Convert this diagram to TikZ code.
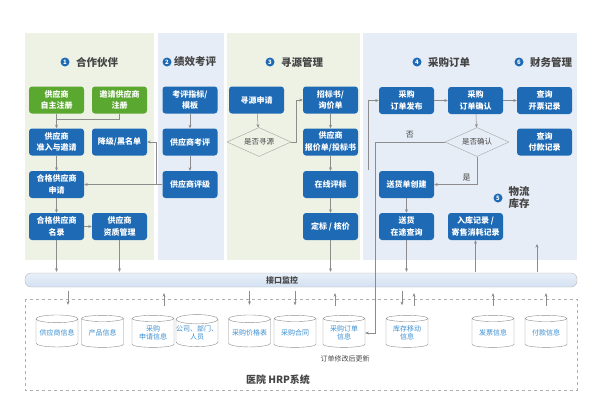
\documentclass[tikz,border=0pt]{standalone}
\usepackage{fontspec}
\setmainfont{Noto Sans CJK SC}
\usepackage{xcolor}
\usepackage{tikz}
\usetikzlibrary{shapes.geometric}
\usetikzlibrary{arrows.meta}

\definecolor{boxblue}{HTML}{1E6AB4}
\definecolor{boxgreen}{HTML}{5AA830}
\definecolor{panelgreen}{HTML}{EDF2E5}
\definecolor{panelblue}{HTML}{E7EDF6}
\definecolor{linegray}{HTML}{8C8C8C}
\definecolor{cyltext}{HTML}{3A8ED0}
\definecolor{titlegray}{HTML}{454545}
\definecolor{bartop}{HTML}{E8EFF8}
\definecolor{barbottom}{HTML}{D3E1F1}

\tikzset{
	box/.style={fill=boxblue, rounded corners=3pt, text=white, minimum width=55pt,
		minimum height=27pt, align=center, inner sep=0.5pt,
		font=\fontsize{8}{11.5}\selectfont\bfseries},
	gbox/.style={box, fill=boxgreen},
	decide/.style={diamond, draw=linegray!80, aspect=2.2, minimum width=64pt,
		minimum height=29pt, inner sep=0pt, text=titlegray,
		font=\fontsize{7.5}{9}\selectfont},
	flow/.style={draw=linegray, line width=0.5pt, -{Stealth[length=3.5pt,width=3pt]}},
	down/.style={flow, shorten <=4pt, shorten >=10pt},
	up/.style={flow, shorten <=9pt, shorten >=6pt},
	cyl/.style={cylinder, shape border rotate=90, aspect=0.22, draw=linegray,
		fill=white, minimum width=42pt, minimum height=32pt, inner sep=0pt,
		text=cyltext, align=center, font=\fontsize{7}{8.5}\selectfont},
	ttl/.style={text=titlegray, font=\fontsize{10.5}{12}\selectfont\bfseries},
	num/.style={circle, fill=boxblue, text=white, inner sep=0pt, minimum size=9pt,
		font=\fontsize{6}{6}\selectfont\bfseries},
}

\begin{document}
\begin{tikzpicture}[x=1pt,y=-1pt]
		\fill[white] (0,0) rectangle (600,413);
		\useasboundingbox (0,0) rectangle (600,413);
		
		% panels
		\fill[panelgreen] (25,33) rectangle (154,260);
		\fill[panelblue] (158,33) rectangle (224,260);
		\fill[panelgreen] (227,33) rectangle (360,260);
		\fill[panelblue] (363,33) rectangle (577,260);
		
		% titles
		\node[ttl] (t1) at (97,62) {合作伙伴};
		\node[num] (n1) at (65,62) {1};
		\node[ttl] (t2) at (195,62) {绩效考评};
		\node[num] (n2) at (167,62) {2};
		\node[ttl] (t3) at (302,62) {寻源管理};
		\node[num] (n3) at (270,62) {3};
		\node[ttl] (t4) at (449,62) {采购订单};
		\node[num] (n4) at (417,62) {4};
		\node[ttl] (t6) at (551,62) {财务管理};
		\node[num] (n6) at (519,62) {6};
		\node[ttl, align=left] (t5) at (519,198) {物流\\库存};
		\node[num] (n5) at (498,198) {5};
		
		% 1 partners
		\node[gbox] (zizhu) at (56.5,100) {供应商\\自主注册};
		\node[gbox] (yaoqing) at (119.5,100) {邀请供应商\\注册};
		\node[box] (zhunru) at (56.5,142) {供应商\\准入与邀请};
		\node[box] (jiangji) at (119.5,142) {降级/黑名单};
		\node[box] (shenqing) at (56.5,184.5) {合格供应商\\申请};
		\node[box] (minglu) at (56.5,226.5) {合格供应商\\名录};
		\node[box] (zizhi) at (119.5,226.5) {供应商\\资质管理};
		
		% 2 evaluation
		\node[box] (zhibiao) at (190,100) {考评指标/\\模板};
		\node[box] (kaoping) at (190,142) {供应商考评};
		\node[box] (pingji) at (190,184.5) {供应商评级};
		
		% 3 sourcing
		\node[box] (xunyuan) at (256.5,100) {寻源申请};
		\node[decide] (shifou) at (259,142) {是否寻源};
		\node[box] (zhaobiao) at (330.5,100) {招标书/\\询价单};
		\node[box] (baojia) at (330.5,142) {供应商\\报价单/投标书};
		\node[box] (pingbiao) at (330.5,184.5) {在线评标};
		\node[box] (dingbiao) at (330.5,226.5) {定标 / 核价};
		
		% 4 orders, 5 stock, 6 finance
		\node[box] (fabu) at (406.5,100.5) {采购\\订单发布};
		\node[box] (queren) at (475.5,100.5) {采购\\订单确认};
		\node[box] (kaipiao) at (544.5,100.5) {查询\\开票记录};
		\node[decide] (isok) at (477,142) {是否确认};
		\node[box] (fukuan) at (544.5,142) {查询\\付款记录};
		\node[box] (songhuo) at (406.5,184.5) {送货单创建};
		\node[box] (zaitu) at (406.5,226.5) {送货\\在途查询};
		\node[box] (ruku) at (475.5,226.5) {入库记录 /\\寄售消耗记录};
		
		% interface bar and HRP
		\node[draw=linegray!60, rounded corners=6pt, top color=bartop, bottom color=barbottom,
			minimum width=552pt, minimum height=14pt, inner sep=0pt] (jiekou) at (301,280) {};
		\node[text=titlegray, font=\fontsize{8}{9}\selectfont\bfseries] (jk) at (282,280) {接口监控};
		\draw[linegray!70, dashed, line width=0.5pt] (25,299) rectangle (577,390);
		\node[text=titlegray, font=\fontsize{10}{12}\selectfont\bfseries] (hrp) at (278,380) {医院 HRP系统};
		
		\node[cyl] (c1) at (57,333) {供应商信息};
		\node[cyl] (c2) at (102.5,333) {产品信息};
		\node[cyl] (c3) at (153,333) {采购\\申请信息};
		\node[cyl] (c4) at (197,333) {公司、部门、\\人员};
		\node[cyl] (c5) at (249.5,333) {采购价格表};
		\node[cyl] (c6) at (295,333) {采购合同};
		\node[cyl] (c7) at (344,333) {采购订单\\信息};
		\node[cyl] (c8) at (407,333) {库存移动\\信息};
		\node[cyl] (c9) at (493,333) {发票信息};
		\node[cyl] (c10) at (546,333) {付款信息};
		\node[text=titlegray, font=\fontsize{7}{8}\selectfont] (gengxin) at (345,359) {订单修改后更新};
		
		% arrows in panels
		\draw[flow] (zizhu) -- (zhunru);
		\draw[linegray, line width=0.5pt] (yaoqing.south) -- ++(0,6) -| (zizhu.south |- 0,120);
		\draw[flow] (zhunru) -- (shenqing);
		\draw[flow] (shenqing) -- (minglu);
		\draw[flow] (minglu) -- (zizhi);
		\draw[flow] (zhibiao) -- (kaoping);
		\draw[flow] (kaoping) -- (pingji);
		\draw[flow] (pingji.west) -- ++(-6,0) coordinate (fb) |- (jiangji.east);
		\draw[flow] (fb) -- (shenqing.east);
		
		\draw[flow] (xunyuan) -- (shifou);
		\draw[flow] (shifou.east) -- ++(5,0) |- (zhaobiao.west);
		\draw[flow] (zhaobiao) -- (baojia);
		\draw[flow] (baojia) -- (pingbiao);
		\draw[flow] (pingbiao) -- (dingbiao);
		
		\draw[flow] (fabu) -- (queren);
		\draw[flow] (queren) -- (kaipiao);
		\draw[flow] (queren) -- (isok);
		\draw[flow] (isok.south) |- (songhuo.east) node[pos=0.62, above, text=titlegray, font=\fontsize{8}{9}\selectfont] {是};
		\draw[flow] (songhuo) -- (zaitu);
		\coordinate (back) at (368,170);
		\draw[flow] (back) |- (fabu.west);
		\draw[flow] (isok.west) -- ++(-70,0) node[pos=0.5, above, text=titlegray, font=\fontsize{8}{9}\selectfont] {否} |- (c7.east);
		
		% to and from the bar
		\draw[flow, shorten >=1pt] (minglu.south) -- (minglu.south |- jiekou.north);
		\draw[flow, shorten >=1pt] (zizhi.south) -- (zizhi.south |- jiekou.north);
		\draw[flow, shorten >=1pt] (dingbiao.south) -- (dingbiao.south |- jiekou.north);
		\draw[flow, shorten >=1pt] (zaitu.south) -- (zaitu.south |- jiekou.north);
		\draw[flow, shorten <=1pt] (ruku.south |- jiekou.north) -- (ruku.south);
		\coordinate (cw) at (537,244);
		\draw[flow, shorten <=1pt] (cw |- jiekou.north) -- (cw);
		
		\draw[down] ([xshift=11pt]c1.north |- jiekou.south) -- ([xshift=11pt]c1.north);
		\draw[up] ([xshift=11pt]c3.north) -- ([xshift=11pt]c3.north |- jiekou.south);
		\draw[down] (c5.north |- jiekou.south) -- (c5.north);
		\draw[down] (c6.north |- jiekou.south) -- (c6.north);
		\draw[up] ([xshift=-9pt]c7.north) -- ([xshift=-9pt]c7.north |- jiekou.south);
		\draw[down] ([xshift=-5pt]c8.north |- jiekou.south) -- ([xshift=-5pt]c8.north);
		\draw[up] ([xshift=7pt]c8.north) -- ([xshift=7pt]c8.north |- jiekou.south);
		\draw[up] (c9.north) -- (c9.north |- jiekou.south);
		\draw[up] (c10.north) -- (c10.north |- jiekou.south);
	\end{tikzpicture}
\end{document}
